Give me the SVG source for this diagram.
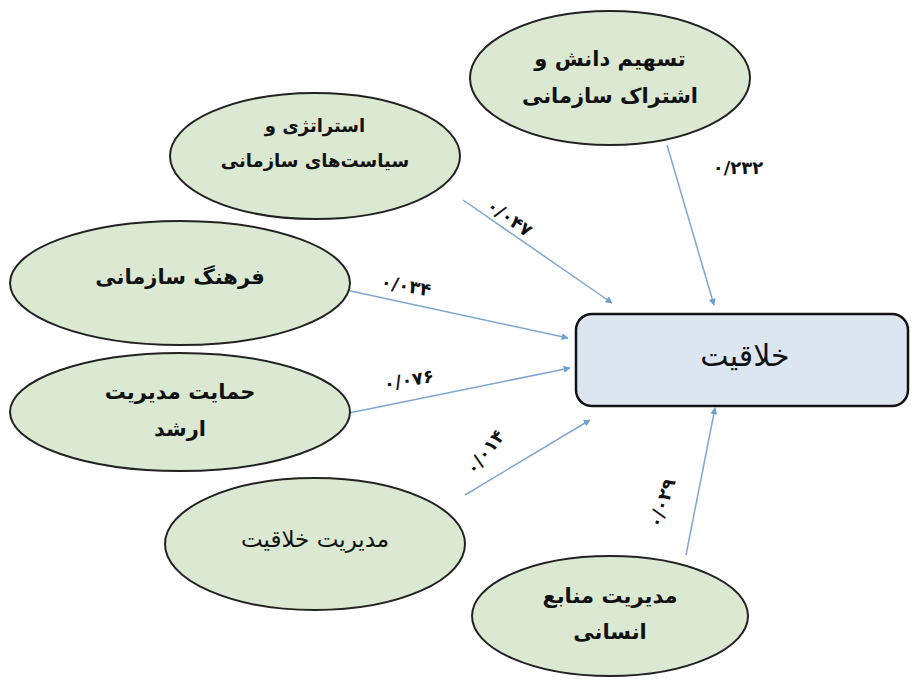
<svg xmlns="http://www.w3.org/2000/svg" width="912" height="683" viewBox="0 0 912 683">
<style>
.node ellipse{fill:#dbe9d3;stroke:#222;stroke-width:2}
.lbl{font-family:"DejaVu Sans",sans-serif;font-size:21px;font-weight:bold;fill:#111;text-anchor:middle;direction:rtl}
.num{font-family:"DejaVu Sans",sans-serif;font-size:18px;font-weight:bold;fill:#111;text-anchor:middle}
.edge{stroke:#7ea7cf;stroke-width:1.5;fill:none;marker-end:url(#ah)}
</style>
<defs>
<marker id="ah" viewBox="0 0 10 10" refX="9" refY="5" markerWidth="7" markerHeight="7" orient="auto" markerUnits="userSpaceOnUse">
<path d="M0,0 L10,5 L0,10 z" fill="#6f9fcf"/>
</marker>
</defs>
<rect width="912" height="683" fill="#fff"/>
<g id="connectors">
<line class="edge" x1="667" y1="145" x2="714" y2="305"/>
<line class="edge" x1="463" y1="200" x2="612" y2="303"/>
<line class="edge" x1="346" y1="290" x2="568" y2="338"/>
<line class="edge" x1="349" y1="413" x2="570" y2="368"/>
<line class="edge" x1="465" y1="495" x2="590" y2="420"/>
<line class="edge" x1="686" y1="555" x2="715" y2="408"/>
<text class="num" x="738" y="174">۰/۲۳۲</text>
<text class="num" transform="translate(506,223) rotate(35)">۰/۰۴۷</text>
<text class="num" transform="translate(405,292) rotate(10)">۰/۰۳۴</text>
<text class="num" transform="translate(410,386) rotate(-10)">۰/۰۷۶</text>
<text class="num" transform="translate(490,456) rotate(-52)">۰/۰۱۴</text>
<text class="num" transform="translate(668,505) rotate(-72)">۰/۰۲۹</text>
</g>
<g id="n-knowledge" class="node">
<ellipse cx="610" cy="78" rx="140" ry="67"/>
<text class="lbl" x="610" y="66">تسهیم دانش و</text>
<text class="lbl" x="610" y="103">اشتراک سازمانی</text>
</g>
<g id="n-strategy" class="node">
<ellipse cx="315" cy="156" rx="145" ry="63"/>
<text class="lbl" x="315" y="132" style="font-size:18px">استراتژی و</text>
<text class="lbl" x="315" y="167" style="font-size:18px">سیاست‌های سازمانی</text>
</g>
<g id="n-culture" class="node">
<ellipse cx="180" cy="283" rx="170" ry="62"/>
<text class="lbl" x="180" y="284">فرهنگ سازمانی</text>
</g>
<g id="n-support" class="node">
<ellipse cx="180" cy="412" rx="170" ry="59"/>
<text class="lbl" x="180" y="399">حمایت مدیریت</text>
<text class="lbl" x="180" y="436">ارشد</text>
</g>
<g id="n-creatmgmt" class="node">
<ellipse cx="315" cy="544" rx="150" ry="66"/>
<text class="lbl" x="315" y="547" style="font-weight:normal;font-size:23px">مدیریت خلاقیت</text>
</g>
<g id="n-hr" class="node">
<ellipse cx="610" cy="616" rx="138" ry="60"/>
<text class="lbl" x="610" y="603">مدیریت منابع</text>
<text class="lbl" x="610" y="639">انسانی</text>
</g>
<g id="n-creativity">
<rect x="576" y="314" width="332" height="92" rx="16" ry="16" fill="#dce6f2" stroke="#111" stroke-width="2.5"/>
<text x="745" y="366" style="font-family:'DejaVu Sans',sans-serif;font-size:30px;fill:#111;text-anchor:middle;direction:rtl">خلاقیت</text>
</g>
</svg>
